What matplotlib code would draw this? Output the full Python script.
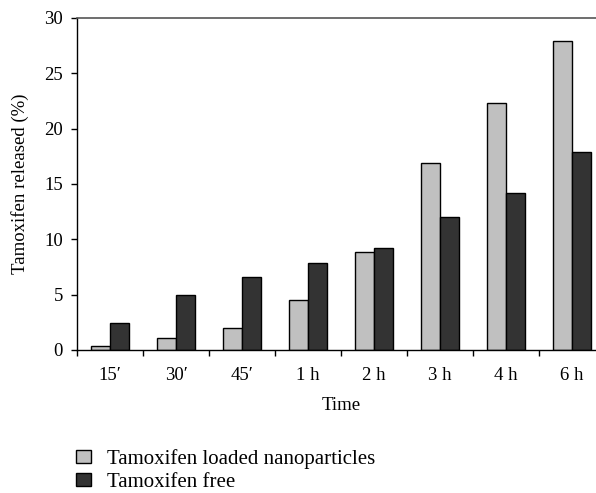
import matplotlib
matplotlib.use("Agg")
import matplotlib.pyplot as plt
from matplotlib.patches import Patch
import numpy as np

plt.rcParams['font.family'] = ['Liberation Serif', 'DejaVu Serif']

categories = ["15\u2032", "30\u2032", "45\u2032", "1 h", "2 h", "3 h", "4 h", "6 h"]
nanoparticles = [0.4, 1.05, 2.0, 4.5, 8.9, 16.9, 22.3, 27.9]
free = [2.45, 4.95, 6.6, 7.9, 9.2, 12.0, 14.2, 17.9]
series_names = ["Tamoxifen loaded nanoparticles", "Tamoxifen free"]
yticks = [0, 5, 10, 15, 20, 25, 30]

fig = plt.figure(figsize=(5.96, 4.93), dpi=100)
ax = fig.add_axes([77/596, 143/493, 528/596, 332/493])

x = np.arange(len(categories))
w = 0.29
light = "#c0c0c0"
dark = "#333333"
ax.bar(x - w/2, nanoparticles, w, color=light, edgecolor="black", linewidth=1.0)
ax.bar(x + w/2, free, w, color=dark, edgecolor="black", linewidth=1.0)

fs = 13.5
ax.set_xlim(-0.5, len(categories) - 0.5)
ax.set_ylim(0, 30)
ax.set_yticks(yticks)
ax.set_xticks(x)
ax.set_xticklabels(categories)
ax.set_xticks(np.arange(len(categories) + 1) - 0.5, minor=True)
ax.tick_params(axis='x', which='major', length=0, pad=12, labelsize=fs)
ax.tick_params(axis='x', which='minor', length=4, direction='out', width=1)
ax.tick_params(axis='y', length=4, direction='out', width=1, labelsize=fs, pad=6)

ax.spines['right'].set_visible(False)
ax.spines['top'].set_color("#555555")
ax.spines['top'].set_linewidth(1.2)
ax.spines['left'].set_linewidth(1.0)
ax.spines['bottom'].set_linewidth(1.0)

ax.set_xlabel("Time", fontsize=fs)
ax.set_ylabel("Tamoxifen released (%)", fontsize=fs)
ax.xaxis.set_label_coords(264/528, -(397 - 350)/332)
ax.yaxis.set_label_coords(-(77 - 29)/528, 0.5)

handles = [Patch(facecolor=light, edgecolor="black", linewidth=1.0),
           Patch(facecolor=dark, edgecolor="black", linewidth=1.0)]
fig.legend(handles, series_names, loc="upper left",
           bbox_to_anchor=(76/596, 1 - 449/493), frameon=False,
           fontsize=15, handlelength=0.72, handleheight=0.58,
           handletextpad=0.75, labelspacing=0.2, borderaxespad=0, borderpad=0)

fig.savefig("out.png", dpi=100)
